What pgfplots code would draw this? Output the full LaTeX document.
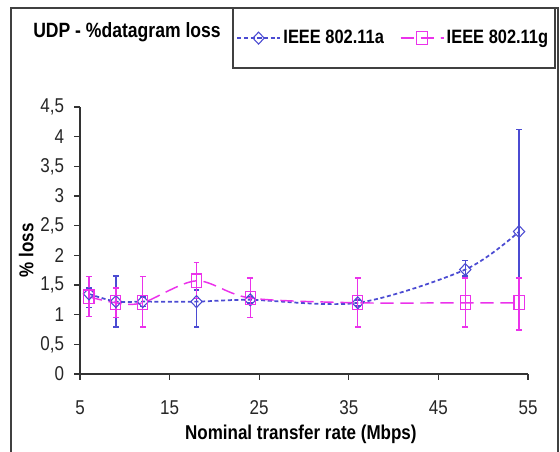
\documentclass[border=0pt]{standalone}
\usepackage{fontspec}
\setmainfont{Liberation Sans}[FakeStretch=0.85]
\usepackage{pgfplots}
\pgfplotsset{compat=1.18}
\definecolor{cA}{RGB}{75,75,210}
\definecolor{cG}{RGB}{235,50,235}
\pgfplotstableread{
x  y    ep   em
6  1.35 0.10 0.23
9  1.22 0.43 0.43
12 1.22 0.08 0.08
18 1.22 0.20 0.43
24 1.25 0.05 0.05
36 1.20 0.05 0.05
48 1.76 0.15 0.11
54 2.40 1.72 1.66
}\dataA
\pgfplotstableread{
x  y    ep   em
6  1.30 0.34 0.33
9  1.20 0.25 0.25
12 1.20 0.44 0.41
18 1.57 0.31 0.30
24 1.28 0.34 0.33
36 1.20 0.42 0.41
48 1.20 0.42 0.41
54 1.20 0.42 0.46
}\dataG
\begin{document}
\begin{tikzpicture}
\useasboundingbox (0,0) rectangle (420pt,339pt);
\draw[line width=0.9pt, black!75] (8.25pt,0pt) -- (8.25pt,333pt) -- (418.5pt,333pt) -- (418.5pt,0pt);
\draw[line width=0.9pt, black!75] (174.75pt,333pt) -- (174.75pt,288pt) -- (416.25pt,288pt) -- (416.25pt,333pt);
\node[font=\bfseries\fontsize{15.5}{17}\selectfont] at (95.25pt,315pt) {UDP - \%datagram loss};
\begin{axis}[
  at={(60pt,58.5pt)}, anchor=south west,
  scale only axis, width=336pt, height=200.25pt,
  xmin=5, xmax=55, ymin=0, ymax=4.5,
  axis x line*=bottom, axis y line*=left,
  axis line style={-, line width=0.9pt, black!80},
  tick align=outside, major tick length=4.5pt,
  tick style={line width=0.9pt, black!80},
  xtick={5,15,...,55}, ytick={0,0.5,...,4.5},
  /pgf/number format/.cd, use comma, fixed, assume math mode=true,
  /pgfplots/.cd,
  tick label style={font=\fontsize{15}{17}\selectfont, black!85},
  xticklabel style={yshift=-12pt},
  yticklabel style={xshift=-4pt},
  xlabel={Nominal transfer rate (Mbps)},
  ylabel={\% loss},
  label style={font=\bfseries\fontsize{15}{17}\selectfont},
  xlabel style={at={(axis description cs:0.493,-0.226)}, anchor=center},
  ylabel style={at={(axis description cs:-0.12,0.464)}, anchor=center},
  clip=false,
  legend columns=2,
  legend image code/.code={\draw[mark repeat=2,mark phase=2,#1] plot coordinates {(0pt,0pt)(16pt,0pt)(32pt,0pt)};},
  legend style={at={(axis description cs:0.700,1.258)}, anchor=center, draw=none, fill=none,
    font=\bfseries\fontsize{14.5}{16}\selectfont,
    /tikz/every even column/.append style={column sep=10pt}},
]
\addplot[color=cA, dash pattern=on 3pt off 2pt, line width=1.3pt, smooth,
  mark=diamond, mark size=4.5pt, mark options={solid, draw=cA, line width=0.8pt, fill=none, xscale=1.25},
  error bars/.cd, y dir=both, y explicit,
  error bar style={solid, line width=1.1pt, color=cA, draw=cA},
  error mark options={rotate=90, mark size=2.2pt, line width=1.2pt, color=cA, draw=cA}]
  table[x=x, y=y, y error plus=ep, y error minus=em] {\dataA};
\addlegendentry{IEEE 802.11a}
\addplot[color=cG, dash pattern=on 10pt off 5pt, line width=1.1pt, smooth,
  mark=square, mark size=3.8pt, mark options={solid, draw=cG, line width=0.8pt, fill=none, yscale=1.35},
  error bars/.cd, y dir=both, y explicit,
  error bar style={solid, line width=1.1pt, color=cG, draw=cG},
  error mark options={rotate=90, mark size=2.2pt, line width=1.2pt, color=cG, draw=cG}]
  table[x=x, y=y, y error plus=ep, y error minus=em] {\dataG};
\addlegendentry{IEEE 802.11g}
\end{axis}
\end{tikzpicture}
\end{document}
